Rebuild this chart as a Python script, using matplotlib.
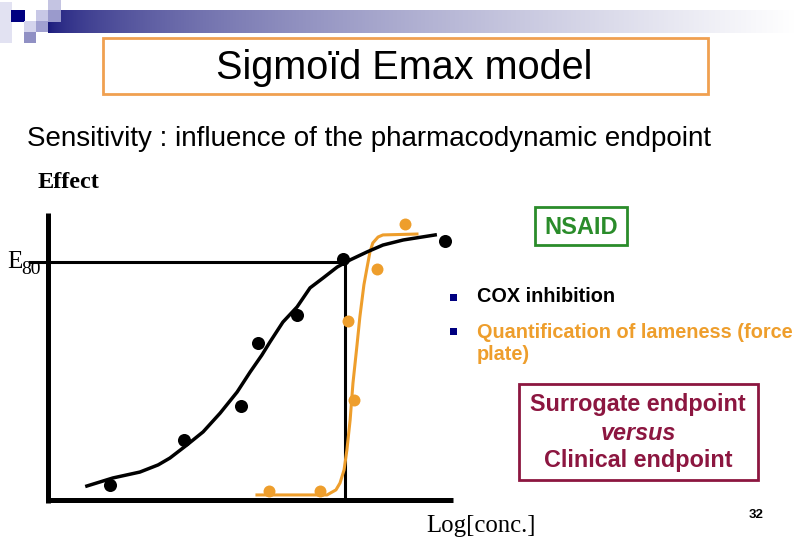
import numpy as np
import matplotlib.pyplot as plt
from matplotlib.patches import Rectangle

# observed points (x: log concentration, arbitrary units; y: effect in %)
cox_x = [1.53, 3.36, 4.77, 5.19, 6.15, 7.28, 9.80]
cox_y = [5.0, 20.2, 31.6, 52.8, 62.2, 81.0, 87.1]
lame_x = [5.46, 6.72, 7.56, 7.41, 8.12, 8.81]
lame_y = [3.0, 3.0, 33.6, 60.2, 77.6, 92.8]

# fitted curves
cox_fit_x = [0.96, 1.60, 2.27, 2.72, 3.01, 3.43, 3.83, 4.25, 4.67, 4.99, 5.28,
             5.48, 5.80, 6.15, 6.47, 6.79, 7.14, 7.46, 7.88, 8.27, 8.77, 9.56]
cox_fit_y = [4.7, 7.4, 9.4, 11.8, 14.1, 18.5, 22.9, 29.2, 36.3, 43.0, 48.7,
             53.1, 59.8, 64.9, 71.3, 74.6, 78.3, 80.7, 83.4, 85.7, 87.4, 89.1]
lame_fit_x = [5.16, 6.89, 7.11, 7.21, 7.31, 7.38, 7.46, 7.53, 7.63, 7.70, 7.80,
              7.88, 7.95, 8.02, 8.15, 8.27, 9.11]
lame_fit_y = [1.7, 1.7, 3.4, 5.7, 10.1, 16.8, 26.9, 39.3, 52.1, 61.5, 72.3,
              78.3, 83.4, 86.4, 88.4, 89.1, 89.4]

e80 = 80
x_e80 = 7.33

orange = '#EE9E2C'
green = '#2A8C2A'
wine = '#8C1640'
navy = '#000080'

fig = plt.figure(figsize=(8.1, 5.4), dpi=100)

# overlay in pixel coordinates for the slide decoration and text
deco = fig.add_axes([0, 0, 1, 1])
deco.set_xlim(0, 810)
deco.set_ylim(540, 0)
deco.axis('off')

grad = np.linspace(0, 1, 400) ** 0.6
c0 = np.array([26, 26, 124]) / 255
rgb = c0[None, :] + (1 - c0[None, :]) * grad[:, None]
deco.imshow(rgb[None, :, :], extent=[48, 795, 33, 10], aspect='auto')

squares = [
    (0, 2, 12, 41, '#e2e2f2'),
    (11, 10, 14, 12, '#000080'),
    (36, 10, 12, 11, '#c8c8e6'),
    (48, 0, 13, 10, '#c4c4e2'),
    (48, 10, 13, 12, '#9a9acc'),
    (24, 21, 12, 11, '#d4d4ec'),
    (36, 21, 12, 11, '#a0a0d0'),
    (24, 32, 12, 11, '#9090c4'),
]
for sx, sy, sw, sh, sc in squares:
    deco.add_patch(Rectangle((sx, sy), sw, sh, color=sc, lw=0))

deco.add_patch(Rectangle((103, 38), 605, 56, fill=False, ec='#F0A050', lw=2))
deco.text(404, 68, 'Sigmoïd Emax model', family='Liberation Sans', fontsize=28.5,
          ha='center', va='center')
deco.text(27, 139, 'Sensitivity : influence of the pharmacodynamic endpoint',
          family='Liberation Sans', fontsize=20, ha='left', va='center')

deco.text(38, 183, 'Effect', family='Liberation Serif', fontsize=17.5,
          fontweight='bold', ha='left', va='center')
deco.text(7, 262, 'E', family='Liberation Serif', fontsize=18,
          ha='left', va='center')
deco.text(21, 269, '80', family='Liberation Serif', fontsize=14,
          ha='left', va='center')
deco.text(426, 526, 'Log[conc.]', family='Liberation Serif', fontsize=17.8,
          ha='left', va='center')

deco.add_patch(Rectangle((535, 207), 92, 38, fill=False, ec=green, lw=2))
deco.text(581, 227, 'NSAID', family='Liberation Sans', fontsize=17,
          fontweight='bold', color=green, ha='center', va='center')

deco.add_patch(Rectangle((450, 294), 7, 7, color=navy, lw=0))
deco.add_patch(Rectangle((450, 328), 7, 7, color=navy, lw=0))
deco.text(477, 297, 'COX inhibition', family='Liberation Sans', fontsize=14.3,
          fontweight='bold', ha='left', va='center')
deco.text(477, 343, 'Quantification of lameness (force\nplate)', family='Liberation Sans',
          fontsize=14.3, fontweight='bold', color=orange, ha='left', va='center',
          linespacing=1.2)

deco.add_patch(Rectangle((519, 384), 239, 96, fill=False, ec=wine, lw=2))
deco.text(638, 404, 'Surrogate endpoint', family='Liberation Sans', fontsize=16.8,
          fontweight='bold', color=wine, ha='center', va='center')
deco.text(638, 433, 'versus', family='Liberation Sans', fontsize=16.8,
          fontweight='bold', style='italic', color=wine, ha='center', va='center')
deco.text(638, 461, 'Clinical endpoint', family='Liberation Sans', fontsize=16.8,
          fontweight='bold', color=wine, ha='center', va='center')

deco.text(756, 515, '32', family='Liberation Sans', fontsize=9.5,
          fontweight='bold', ha='center', va='center')

# the chart itself
ax = fig.add_axes([48 / 810, 40 / 540, 405 / 810, 297.5 / 540])
ax.patch.set_alpha(0)
ax.set_xlim(0, 10)
ax.set_ylim(0, 100)
for side in ['top', 'right']:
    ax.spines[side].set_visible(False)
for side in ['left', 'bottom']:
    ax.spines[side].set_linewidth(3.6)
    ax.spines[side].set_capstyle('butt')
ax.spines['left'].set_bounds(-1, 96.5)
ax.set_xticks([])
ax.set_yticks([])

ax.plot([-0.44, x_e80], [e80, e80], color='black', lw=2.2, clip_on=False)
ax.plot([x_e80, x_e80], [0, e80], color='black', lw=2.2)

ax.plot(lame_fit_x, lame_fit_y, color=orange, lw=2.2, solid_joinstyle='round')
ax.plot(cox_fit_x, cox_fit_y, color='black', lw=2.5, solid_joinstyle='round')
ax.plot(lame_x, lame_y, 'o', color=orange, ms=8.6, mew=0, clip_on=False)
ax.plot(cox_x, cox_y, 'o', color='black', ms=9.4, mew=0, clip_on=False)

fig.savefig('out.png', dpi=100)
